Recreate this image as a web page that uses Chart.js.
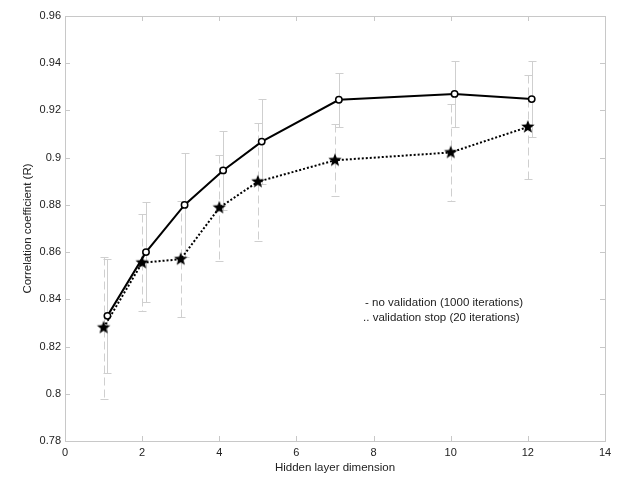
<!DOCTYPE html>
<html>
<head>
<meta charset="utf-8">
<script src="https://cdn.jsdelivr.net/npm/chart.js@4"></script>
<style>
  html, body { margin: 0; padding: 0; background: #fff; }
  #wrap { width: 623px; height: 489px; position: relative; }
</style>
</head>
<body>
<div id="wrap"><canvas id="chart"></canvas></div>
<script>
// hidden layer sizes that were tried
const dims = [1, 2, 3, 4, 5, 7, 10, 12];

// no validation (1000 iterations): mean R and spread
const noValR = [0.833, 0.860, 0.880, 0.8946, 0.9068, 0.9245, 0.927, 0.9248];
const noValErr = [0.024, 0.0212, 0.022, 0.0167, 0.018, 0.0115, 0.014, 0.016];

// validation stop (20 iterations)
const valR = [0.828, 0.8555, 0.857, 0.8788, 0.8898, 0.8989, 0.9022, 0.913];
const valErr = [0.030, 0.0205, 0.0245, 0.0225, 0.025, 0.0153, 0.0205, 0.022];

const legendLines = ['- no validation (1000 iterations)', '.. validation stop (20 iterations)'];

// the no-validation series is nudged right a bit so the bars don't overlap
const jitter = 0.1;

const FONT = '"Liberation Sans", Arial, Helvetica, sans-serif';
const GREY = '#c8c8c8';

// filled five point star for the markers
function makeStar(r) {
    const size = Math.ceil(r * 2 + 2);
    const c = document.createElement('canvas');
    c.width = size;
    c.height = size;
    const g = c.getContext('2d');
    const cx = size / 2, cy = size / 2;
    g.beginPath();
    for (let i = 0; i < 10; i++) {
        const rad = i % 2 === 0 ? r : r * 0.42;
        const a = -Math.PI / 2 + i * Math.PI / 5;
        const px = cx + rad * Math.cos(a);
        const py = cy + rad * Math.sin(a);
        if (i === 0) g.moveTo(px, py); else g.lineTo(px, py);
    }
    g.closePath();
    g.fillStyle = '#000';
    g.fill();
    return c;
}
const starImg = makeStar(7);

const errorBars = {
    id: 'errorBars',
    beforeDatasetsDraw(chart) {
        const { ctx } = chart;
        const xs = chart.scales.x, ys = chart.scales.y;
        const groups = [
            { mean: noValR, err: noValErr, shift: jitter, dash: [] },
            { mean: valR, err: valErr, shift: 0, dash: [8, 4] }
        ];
        ctx.save();
        ctx.strokeStyle = '#cfcfcf';
        ctx.lineWidth = 1;
        groups.forEach(grp => {
            dims.forEach((d, i) => {
                const x = Math.round(xs.getPixelForValue(d + grp.shift)) + 0.5;
                const top = Math.round(ys.getPixelForValue(grp.mean[i] + grp.err[i])) + 0.5;
                const bot = Math.round(ys.getPixelForValue(grp.mean[i] - grp.err[i])) + 0.5;
                ctx.setLineDash(grp.dash);
                ctx.beginPath();
                ctx.moveTo(x, top);
                ctx.lineTo(x, bot);
                ctx.stroke();
                ctx.setLineDash([]);
                ctx.beginPath();
                ctx.moveTo(x - 4, top); ctx.lineTo(x + 4, top);
                ctx.moveTo(x - 4, bot); ctx.lineTo(x + 4, bot);
                ctx.stroke();
            });
        });
        ctx.restore();
    }
};

// matlab style box with ticks pointing inward
const boxAxes = {
    id: 'boxAxes',
    beforeDatasetsDraw(chart) {
        const { ctx, chartArea: a } = chart;
        const xs = chart.scales.x, ys = chart.scales.y;
        ctx.save();
        ctx.strokeStyle = GREY;
        ctx.lineWidth = 1;
        ctx.strokeRect(a.left + 0.5, a.top + 0.5, a.right - a.left, a.bottom - a.top);
        ctx.beginPath();
        xs.ticks.forEach(t => {
            const x = Math.round(xs.getPixelForValue(t.value)) + 0.5;
            ctx.moveTo(x, a.bottom); ctx.lineTo(x, a.bottom - 5);
            ctx.moveTo(x, a.top); ctx.lineTo(x, a.top + 5);
        });
        ys.ticks.forEach(t => {
            const y = Math.round(ys.getPixelForValue(t.value)) + 0.5;
            ctx.moveTo(a.left, y); ctx.lineTo(a.left + 5, y);
            ctx.moveTo(a.right, y); ctx.lineTo(a.right - 5, y);
        });
        ctx.stroke();
        ctx.restore();
    },
    afterDatasetsDraw(chart) {
        const { ctx } = chart;
        const xs = chart.scales.x, ys = chart.scales.y;
        ctx.save();
        ctx.font = '11.5px ' + FONT;
        ctx.fillStyle = '#222';
        ctx.textBaseline = 'middle';
        ctx.textAlign = 'left';
        const x = xs.getPixelForValue(7.78);
        ctx.fillText(legendLines[0], x, ys.getPixelForValue(0.8386));
        ctx.fillText(legendLines[1], x - 2, ys.getPixelForValue(0.8320));
        ctx.restore();
    }
};

const ctx = document.getElementById('chart').getContext('2d');

new Chart(ctx, {
    type: 'line',
    data: {
        datasets: [
            {
                label: 'no validation',
                data: dims.map((d, i) => ({ x: d + jitter, y: noValR[i] })),
                borderColor: '#000',
                borderWidth: 2,
                pointStyle: 'circle',
                pointRadius: 3.2,
                pointBorderWidth: 1.5,
                pointBackgroundColor: '#fff',
                pointBorderColor: '#000',
                tension: 0,
                fill: false
            },
            {
                label: 'validation stop',
                data: dims.map((d, i) => ({ x: d, y: valR[i] })),
                borderColor: '#000',
                borderWidth: 2,
                borderDash: [2, 2],
                pointStyle: starImg,
                pointRadius: 6,
                tension: 0,
                fill: false
            }
        ]
    },
    options: {
        responsive: true,
        maintainAspectRatio: false,
        animation: false,
        layout: { padding: { top: 16, right: 18, left: 0, bottom: 0 } },
        plugins: {
            legend: { display: false },
            tooltip: { enabled: false }
        },
        scales: {
            x: {
                type: 'linear',
                min: 0,
                max: 14,
                ticks: {
                    stepSize: 2,
                    padding: 5,
                    color: '#222',
                    font: { family: FONT, size: 11 },
                    maxRotation: 0
                },
                grid: { display: false, drawTicks: false },
                border: { display: false },
                title: {
                    display: true,
                    text: 'Hidden layer dimension',
                    color: '#222',
                    font: { family: FONT, size: 11.5 },
                    padding: { top: 0, bottom: 14 }
                },
                afterFit(scale) { scale.height = 48; }
            },
            y: {
                min: 0.78,
                max: 0.96,
                ticks: {
                    stepSize: 0.02,
                    padding: 4,
                    color: '#222',
                    font: { family: FONT, size: 11 },
                    callback: v => String(parseFloat(v.toFixed(2)))
                },
                grid: { display: false, drawTicks: false },
                border: { display: false },
                title: {
                    display: true,
                    text: 'Correlation coefficient (R)',
                    color: '#222',
                    font: { family: FONT, size: 11.5 },
                    padding: { top: 21, bottom: 0 }
                },
                afterFit(scale) { scale.width = 65; }
            }
        }
    },
    plugins: [errorBars, boxAxes]
});
</script>
</body>
</html>
